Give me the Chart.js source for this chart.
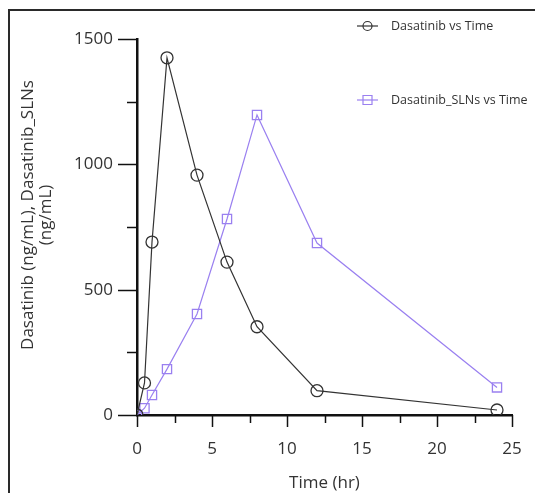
<!DOCTYPE html>
<html>
<head>
<meta charset="utf-8">
<script src="https://cdn.jsdelivr.net/npm/chart.js@4"></script>
<style>
  html, body { margin: 0; padding: 0; background: #fff; }
  #wrap { position: relative; width: 535px; height: 493px; overflow: hidden; }
  #frame { position: absolute; left: 8px; top: 9px; right: -4px; bottom: -4px;
           border-left: 2px solid #2a2a2a; border-top: 2px solid #2a2a2a; }
  #myChart { position: absolute; left: 0; top: 0; }
</style>
</head>
<body>
<div id="wrap">
  <div id="frame"></div>
  <canvas id="myChart" width="535" height="493"></canvas>
</div>
<script>
const times = [0, 0.5, 1, 2, 4, 6, 8, 12, 24];
const dasatinib = [0, 128, 690, 1425, 957, 610, 352, 97, 20];
const dasatinibSLNs = [0, 27, 80, 183, 403, 782, 1197, 686, 110];
const seriesNames = ["Dasatinib vs Time", "Dasatinib_SLNs vs Time"];
const xTitle = "Time (hr)";
const yTitle = ["Dasatinib (ng/mL), Dasatinib_SLNs", "(ng/mL)"];

const black = "#333333";
const purple = "#9a80f0";
const textColor = "#333333";
const fontFamily = "'Open Sans', 'Noto Sans', sans-serif";

const toPoints = (ys) => times.map((t, i) => ({ x: t, y: ys[i] }));

// ticks drawn by hand: major + minor, like the original plot
const tickMarks = {
  id: "tickMarks",
  afterDraw(chart) {
    const { ctx, scales } = chart;
    const xs = scales.x, ys = scales.y;
    ctx.save();
    ctx.strokeStyle = "#111";
    ctx.lineWidth = 1.5;
    ys.ticks.forEach((t) => {
      const y = Math.round(ys.getPixelForValue(t.value)) + 0.5;
      const len = t.value % 500 === 0 ? 19 : 10;
      ctx.beginPath();
      ctx.moveTo(xs.left - len, y);
      ctx.lineTo(xs.left, y);
      ctx.stroke();
    });
    xs.ticks.forEach((t) => {
      const x = Math.round(xs.getPixelForValue(t.value)) + 0.5;
      const len = t.value % 5 === 0 ? 12 : 8;
      ctx.beginPath();
      ctx.moveTo(x, ys.bottom);
      ctx.lineTo(x, ys.bottom + len);
      ctx.stroke();
    });
    ctx.restore();
  },
};

// y title sits a bit above the axis centre in the original, so draw it here
const yAxisTitle = {
  id: "yAxisTitle",
  afterDraw(chart) {
    const { ctx } = chart;
    ctx.save();
    ctx.translate(28, 215);
    ctx.rotate(-Math.PI / 2);
    ctx.font = "17px " + fontFamily;
    ctx.fillStyle = textColor;
    ctx.textAlign = "center";
    ctx.textBaseline = "middle";
    yTitle.forEach((line, i) => ctx.fillText(line, 0, i * 18.5));
    ctx.restore();
  },
};

// legend placed like the original: two entries far apart at top right
const sideLegend = {
  id: "sideLegend",
  afterDraw(chart) {
    const { ctx } = chart;
    const rows = [
      { y: 26, color: black, shape: "circle" },
      { y: 100, color: purple, shape: "square" },
    ];
    ctx.save();
    ctx.font = "12.5px " + fontFamily;
    ctx.textBaseline = "middle";
    rows.forEach((r, i) => {
      ctx.strokeStyle = r.color;
      ctx.lineWidth = 1.2;
      ctx.beginPath();
      ctx.moveTo(357, r.y);
      ctx.lineTo(378, r.y);
      ctx.stroke();
      ctx.beginPath();
      if (r.shape === "circle") ctx.arc(367.5, r.y, 4.5, 0, Math.PI * 2);
      else ctx.rect(363, r.y - 4.5, 9, 9);
      ctx.stroke();
      ctx.fillStyle = textColor;
      ctx.fillText(seriesNames[i], 391, r.y);
    });
    ctx.restore();
  },
};

const ctx = document.getElementById("myChart").getContext("2d");
const myChart = new Chart(ctx, {
  type: "scatter",
  data: {
    datasets: [
      {
        label: seriesNames[0],
        data: toPoints(dasatinib),
        showLine: true,
        borderColor: black,
        borderWidth: 1.2,
        backgroundColor: "rgba(0,0,0,0)",
        pointStyle: "circle",
        pointRadius: 6,
        pointBorderWidth: 1.3,
        pointBorderColor: black,
      },
      {
        label: seriesNames[1],
        data: toPoints(dasatinibSLNs),
        showLine: true,
        borderColor: purple,
        borderWidth: 1.2,
        backgroundColor: "rgba(0,0,0,0)",
        pointStyle: "rect",
        pointRadius: 6.5,
        pointBorderWidth: 1.3,
        pointBorderColor: purple,
      },
    ],
  },
  options: {
    responsive: false,
    animation: false,
    devicePixelRatio: 1,
    layout: { padding: { top: 39, right: 23, left: 0, bottom: 0 } },
    plugins: { legend: { display: false }, tooltip: { enabled: false } },
    scales: {
      x: {
        type: "linear",
        min: 0,
        max: 25,
        afterFit: (s) => { s.height = 78; },
        ticks: {
          stepSize: 2.5,
          padding: 3,
          color: textColor,
          font: { family: fontFamily, size: 17 },
          maxRotation: 0,
          autoSkip: false,
          callback: (v) => (v % 5 === 0 ? v : ""),
        },
        // invisible tick marks only to push labels down (real ticks are drawn above)
        grid: { display: true, drawOnChartArea: false, drawTicks: true, tickLength: 21, color: "rgba(0,0,0,0)" },
        border: { display: true, color: "#111", width: 2.5 },
        title: {
          display: true,
          text: xTitle,
          color: textColor,
          font: { family: fontFamily, size: 17 },
          padding: { top: 0, bottom: 0 },
        },
      },
      y: {
        type: "linear",
        min: 0,
        max: 1500,
        afterFit: (s) => { s.width = 137; },
        ticks: {
          stepSize: 250,
          padding: 24,
          color: textColor,
          font: { family: fontFamily, size: 17 },
          autoSkip: false,
          callback: (v) => (v % 500 === 0 ? v : ""),
        },
        grid: { display: false, drawTicks: false },
        border: { display: true, color: "#111", width: 2.5 },
        title: { display: false },
      },
    },
  },
  plugins: [tickMarks, yAxisTitle, sideLegend],
});
</script>
</body>
</html>
